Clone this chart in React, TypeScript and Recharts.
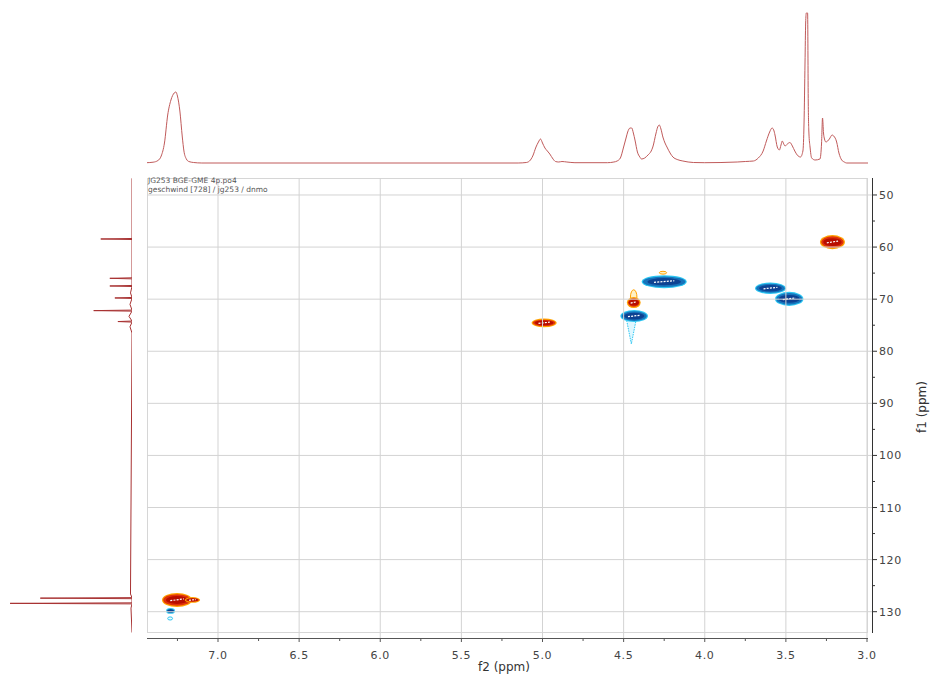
import React from 'react';
import { ComposedChart, LineChart, Line, XAxis, YAxis, ReferenceArea, ReferenceLine } from 'recharts';

// axis ranges (ppm) of the 2D plot area
const F2_LEFT = 7.4376;
const F2_RIGHT = 2.9692;
const F1_TOP = 46.74;
const F1_BOTTOM = 135.05;

const f2Ticks = [7.25, 7.0, 6.75, 6.5, 6.25, 6.0, 5.75, 5.5, 5.25, 5.0, 4.75, 4.5, 4.25, 4.0, 3.75, 3.5, 3.25, 3.0];
const f1Ticks = [50, 55, 60, 65, 70, 75, 80, 85, 90, 95, 100, 105, 110, 115, 120, 125, 130];
const f2Grid = [7.0, 6.5, 6.0, 5.5, 5.0, 4.5, 4.0, 3.5, 3.0];
const f1Grid = [50, 60, 70, 80, 90, 100, 110, 120, 130];

// 1H projection (top trace): [ppm, intensity]
const protonTrace: [number, number][] = [
  [7.44, 0.3], [7.4, 0.8], [7.37, 2.5], [7.35, 7], [7.33, 20], [7.31, 48], [7.29, 63], [7.27, 70], [7.26, 71],
  [7.25, 67], [7.235, 52], [7.22, 26], [7.21, 12], [7.195, 4], [7.18, 1.5], [7.15, 0.5], [7.1, 0], [5.15, 0],
  [5.1, 0.5], [5.08, 2], [5.06, 7], [5.04, 16], [5.025, 21], [5.012, 24], [5.0, 20], [4.985, 15], [4.97, 12],
  [4.955, 9], [4.935, 4], [4.92, 1.5], [4.9, 1], [4.88, 1.5], [4.85, 1], [4.8, 0.3], [4.6, 0.3], [4.56, 1],
  [4.54, 2], [4.52, 5], [4.5, 16], [4.485, 25], [4.475, 31], [4.46, 35], [4.45, 35], [4.44, 30], [4.43, 23],
  [4.415, 11], [4.4, 6], [4.39, 4], [4.37, 5], [4.35, 8], [4.33, 12], [4.32, 16], [4.3, 30], [4.29, 36],
  [4.28, 38], [4.27, 34], [4.258, 26], [4.245, 20], [4.233, 16], [4.21, 9], [4.196, 6], [4.17, 3.5],
  [4.135, 2], [4.07, 0.5], [4.0, 0.3], [3.8, 1], [3.75, 1.5], [3.7, 2], [3.67, 5], [3.64, 12], [3.62, 22],
  [3.6, 31], [3.585, 35], [3.575, 33], [3.567, 28], [3.553, 16], [3.54, 13], [3.53, 18], [3.522, 22],
  [3.513, 19], [3.505, 17], [3.491, 19], [3.475, 20.5], [3.46, 17], [3.445, 12], [3.43, 8], [3.41, 6],
  [3.395, 12], [3.388, 40], [3.382, 100], [3.378, 140], [3.374, 150], [3.366, 150], [3.362, 60], [3.358, 30],
  [3.351, 16], [3.341, 5], [3.32, 3], [3.29, 4], [3.28, 20], [3.274, 45], [3.268, 30], [3.262, 24],
  [3.253, 21], [3.232, 24], [3.215, 28], [3.205, 27], [3.187, 21], [3.173, 10], [3.156, 3], [3.14, 1],
  [3.125, 0], [2.99, 0],
];

// 13C projection (left trace)
const carbonShifts = [58.45, 66.0, 67.47, 69.77, 72.2, 74.3, 127.4, 128.4];
const carbonHeights = [31, 22, 22, 17, 38, 14, 91, 121];
const carbonBaseline: [number, number][] = [
  [46.8, 0], [68.8, 1.5], [71.0, 2], [73.3, 3], [75.3, 2], [76.5, 0], [126.6, 1.5], [129.3, 1], [134.0, 0],
];

// HSQC cross peaks: f2 range and f1 range (ppm)
const negativePeaks = [
  { f2: [7.32, 7.265], f1: [129.3, 130.4] },
  { f2: [4.389, 4.111], f1: [65.4, 67.9] },
  { f2: [4.52, 4.35], f1: [72.1, 74.4] },
  { f2: [3.69, 3.5], f1: [66.8, 69.0] },
  { f2: [3.567, 3.392], f1: [68.6, 71.3] },
];
const negativeTails = [{ f2: [4.485, 4.42], f1: [73.5, 78.6] }];
const negativeSpecks = [{ f2: [7.31, 7.28], f1: [131.0, 131.6] }];
const positivePeaks = [
  { f2: [7.345, 7.16], f1: [126.4, 129.1] },
  { f2: [7.205, 7.11], f1: [127.2, 128.3] },
  { f2: [5.067, 4.913], f1: [73.7, 75.4] },
  { f2: [4.48, 4.395], f1: [69.6, 71.7] },
  { f2: [3.29, 3.136], f1: [57.7, 60.4] },
];
const positiveSpecks = [
  { f2: [4.458, 4.418], f1: [68.2, 71.0] },
  { f2: [4.28, 4.235], f1: [64.65, 65.2] },
];

const protonData = protonTrace.map(([ppm, v]) => ({ ppm, v }));
const carbonData = [
  ...carbonBaseline.map(([ppm, v]) => ({ ppm, v })),
  ...carbonShifts.flatMap((s, i) => [
    { ppm: s - 0.1, v: 0 },
    { ppm: s, v: carbonHeights[i] },
    { ppm: s + 0.1, v: 0 },
  ]),
].sort((a, b) => a.ppm - b.ppm);

const RED = { edge: '#ffa200', body: '#e0320a', core: '#b80e00' };
const BLUE = { edge: '#2cc6f2', body: '#1673bb', core: '#0d4292' };

const blob = (c: typeof RED) => (p: any) => {
  const { x, y, width: w, height: h } = p;
  const cx = x + w / 2;
  const cy = y + h / 2;
  const rx = w / 2;
  const ry = h / 2;
  return (
    <g>
      <ellipse cx={cx} cy={cy} rx={rx} ry={ry} fill={c.edge} />
      <ellipse cx={cx} cy={cy} rx={Math.max(rx - 1.2, 0.5)} ry={Math.max(ry - 1.2, 0.5)} fill={c.body} />
      <ellipse cx={cx} cy={cy} rx={rx * 0.74} ry={ry * 0.56} fill={c.core} />
      {w > 12 && (
        <line x1={cx - rx * 0.45} y1={cy + ry * 0.1} x2={cx + rx * 0.45} y2={cy - ry * 0.15}
          stroke="#fff" strokeWidth={1.2} strokeDasharray="2 1.2" />
      )}
    </g>
  );
};

const speck = (c: typeof RED, fill: string) => (p: any) => (
  <ellipse cx={p.x + p.width / 2} cy={p.y + p.height / 2} rx={p.width / 2} ry={p.height / 2}
    fill={fill} stroke={c.edge} strokeWidth={1} />
);

const tail = (p: any) => (
  <path d={`M${p.x},${p.y} L${p.x + p.width},${p.y} L${p.x + p.width / 2},${p.y + p.height} Z`}
    fill="#dff7ff" stroke={BLUE.edge} strokeWidth={1} strokeDasharray="1.5 1" />
);

const F2Tick = (props: any) => {
  const { x, y, payload } = props;
  const v = payload.value;
  const major = Math.abs(v * 2 - Math.round(v * 2)) < 1e-6;
  return (
    <g>
      <line x1={x} y1={y} x2={x} y2={y + (major ? 4 : 3)} stroke="#555" />
      {major && (
        <text x={x} y={y + 21} textAnchor="middle" fontSize={11} fill="#444" letterSpacing={0.6}>{v.toFixed(1)}</text>
      )}
    </g>
  );
};

const F1Tick = (props: any) => {
  const { x, y, payload } = props;
  const major = payload.value % 10 === 0;
  return (
    <g>
      <line x1={x} y1={y} x2={x + (major ? 5 : 3)} y2={y} stroke="#333" />
      {major && (
        <text x={x + 7} y={y + 4} textAnchor="start" fontSize={11} fill="#444" letterSpacing={0.6}>{payload.value}</text>
      )}
    </g>
  );
};

const abs = (left: number, top: number, extra: React.CSSProperties = {}): React.CSSProperties => ({
  position: 'absolute', left, top, ...extra,
});

export default function App() {
  return (
    <div style={{ position: 'absolute', left: 0, top: 0, width: 931, height: 675, background: '#fff', overflow: 'hidden', fontFamily: '"DejaVu Sans", sans-serif' }}>
      {/* plot frame */}
      <div style={abs(147, 178, { width: 721, height: 455, border: '1px solid #d6d6d6', boxSizing: 'border-box' })} />

      <div style={abs(0, 0)}>
        <ComposedChart width={931} height={675} margin={{ top: 178, left: 147, right: 14, bottom: 7 }}>
          <XAxis type="number" dataKey="f2" domain={[F2_RIGHT, F2_LEFT]} reversed allowDataOverflow
            ticks={f2Ticks} interval={0} tick={F2Tick} tickLine={false} axisLine={false}
            tickSize={0} tickMargin={0} height={30} />
          <YAxis type="number" orientation="right" domain={[F1_TOP, F1_BOTTOM]} reversed allowDataOverflow
            ticks={f1Ticks} interval={0} tick={F1Tick} tickLine={false} axisLine={false}
            tickSize={0} tickMargin={0} width={45} />
          {f2Grid.map((v) => <ReferenceLine key={`gx${v}`} x={v} stroke="#d3d3d3" />)}
          {f1Grid.map((v) => <ReferenceLine key={`gy${v}`} y={v} stroke="#d3d3d3" />)}
          {negativeSpecks.map((p, i) => (
            <ReferenceArea key={`ns${i}`} x1={p.f2[0]} x2={p.f2[1]} y1={p.f1[0]} y2={p.f1[1]} shape={speck(BLUE, '#e8fbff')} />
          ))}
          {negativeTails.map((p, i) => (
            <ReferenceArea key={`nt${i}`} x1={p.f2[0]} x2={p.f2[1]} y1={p.f1[0]} y2={p.f1[1]} shape={tail} />
          ))}
          {positiveSpecks.map((p, i) => (
            <ReferenceArea key={`ps${i}`} x1={p.f2[0]} x2={p.f2[1]} y1={p.f1[0]} y2={p.f1[1]} shape={speck(RED, '#fff1c4')} />
          ))}
          {negativePeaks.map((p, i) => (
            <ReferenceArea key={`n${i}`} x1={p.f2[0]} x2={p.f2[1]} y1={p.f1[0]} y2={p.f1[1]} shape={blob(BLUE)} />
          ))}
          {positivePeaks.map((p, i) => (
            <ReferenceArea key={`p${i}`} x1={p.f2[0]} x2={p.f2[1]} y1={p.f1[0]} y2={p.f1[1]} shape={blob(RED)} />
          ))}
        </ComposedChart>
      </div>

      {/* axis lines */}
      <div style={abs(147, 638, { width: 721, height: 1, background: '#555' })} />
      <div style={abs(872, 178, { width: 1, height: 455, background: '#333' })} />

      {/* 1H projection */}
      <div style={abs(147, 0)}>
        <LineChart width={721} height={170} data={protonData} margin={{ top: 0, right: 0, bottom: 7, left: 0 }}>
          <XAxis type="number" dataKey="ppm" domain={[2.9938, F2_LEFT]} reversed allowDataOverflow hide />
          <YAxis type="number" domain={[0, 163]} hide />
          <Line type="monotone" dataKey="v" stroke="#c05a5a" strokeWidth={1} dot={false} isAnimationActive={false} />
        </LineChart>
      </div>

      {/* 13C projection */}
      <div style={abs(0, 178)}>
        <LineChart layout="vertical" width={132} height={455} data={carbonData} margin={{ top: 0, right: 0, bottom: 0, left: 0 }}>
          <XAxis type="number" domain={[0, 131]} reversed hide />
          <YAxis type="number" dataKey="ppm" domain={[F1_TOP, 134.09]} allowDataOverflow hide />
          <Line type="linear" dataKey="v" stroke="#a83232" strokeWidth={1} dot={false} isAnimationActive={false} />
        </LineChart>
      </div>

      <div style={abs(148, 176, { fontSize: 7.5, lineHeight: '9px', color: '#555', whiteSpace: 'nowrap' })}>
        <div>JG253 BGE-GME 4p.po4</div>
        <div>geschwind [728] / jg253 / dnmo</div>
      </div>

      <div style={abs(478, 660, { fontSize: 12, color: '#333', whiteSpace: 'nowrap' })}>f2 (ppm)</div>
      <div style={abs(922, 407, { fontSize: 12, color: '#333', whiteSpace: 'nowrap', transform: 'translate(-50%, -50%) rotate(-90deg)' })}>f1 (ppm)</div>
    </div>
  );
}
